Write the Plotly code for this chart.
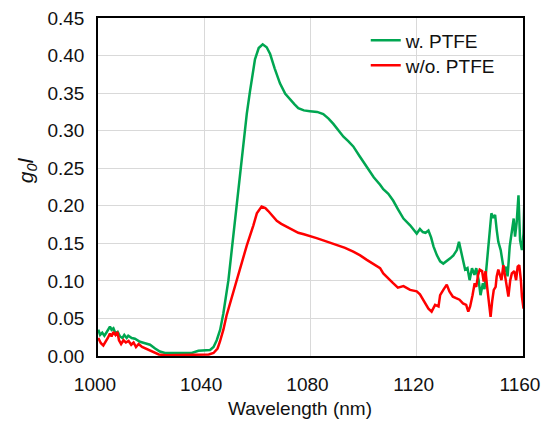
import plotly.graph_objects as go

# --- data ---
wl_green = [1000.1, 1000.8, 1001.6, 1002.4, 1003.3, 1003.9, 1004.5, 1005.1, 1005.8, 1006.6,
            1007.4, 1008.3, 1009.2, 1009.9, 1010.8, 1011.4, 1012.7, 1013.9, 1015.8, 1017.7,
            1019.6, 1021.5, 1023.3, 1025.2, 1030.2, 1035.3, 1037.8, 1040.3, 1042.2, 1043.5,
            1044.7, 1046.0, 1047.2, 1049.1, 1050.9, 1052.2, 1053.5, 1054.7, 1056.0, 1057.2,
            1058.3, 1059.1, 1060.5, 1062.0, 1063.5, 1064.8, 1066.5, 1068.5, 1070.5, 1072.3,
            1074.0, 1075.4, 1077.5, 1079.8, 1082.5, 1084.8, 1086.8, 1088.6, 1090.5, 1092.4,
            1094.2, 1096.1, 1098.5, 1101.2, 1103.8, 1106.2, 1107.4, 1109.3, 1111.1, 1113.0,
            1115.0, 1117.5, 1118.8, 1120.0, 1121.2, 1122.3, 1123.3, 1124.4, 1125.4, 1126.3,
            1127.6, 1128.8, 1130.0, 1131.3, 1132.6, 1133.8, 1135.1, 1135.9, 1136.7, 1137.6,
            1138.2, 1139.1, 1139.9, 1140.8, 1141.7, 1142.4, 1143.3, 1144.0, 1144.9, 1145.5,
            1146.5, 1147.4, 1148.1, 1148.8, 1149.5, 1150.1, 1150.7, 1151.6, 1152.3, 1152.9,
            1153.5, 1154.2, 1155.0, 1155.8, 1156.5, 1157.0, 1157.6, 1158.3, 1158.9, 1159.6,
            1160.2, 1160.6]
g_green = [0.035, 0.028, 0.031, 0.027, 0.032, 0.036, 0.039, 0.035, 0.037, 0.030,
           0.032, 0.026, 0.024, 0.028, 0.024, 0.027, 0.024, 0.023, 0.019, 0.017,
           0.015, 0.010, 0.006, 0.004, 0.004, 0.004, 0.007, 0.008, 0.008, 0.012,
           0.021, 0.035, 0.057, 0.101, 0.160, 0.204, 0.245, 0.285, 0.322, 0.352,
           0.375, 0.395, 0.410, 0.415, 0.411, 0.402, 0.383, 0.363, 0.349, 0.341,
           0.335, 0.330, 0.327, 0.326, 0.325, 0.322, 0.316, 0.309, 0.300, 0.292,
           0.286, 0.279, 0.266, 0.252, 0.238, 0.228, 0.222, 0.216, 0.207, 0.195,
           0.183, 0.174, 0.168, 0.163, 0.169, 0.165, 0.164, 0.167, 0.158, 0.146,
           0.134, 0.126, 0.123, 0.126, 0.130, 0.134, 0.141, 0.152, 0.139, 0.128,
           0.115, 0.117, 0.101, 0.117, 0.108, 0.117, 0.101, 0.081, 0.097, 0.089,
           0.132, 0.172, 0.190, 0.184, 0.188, 0.168, 0.152, 0.141, 0.123, 0.112,
           0.119, 0.106, 0.146, 0.168, 0.183, 0.159, 0.177, 0.214, 0.154, 0.141,
           0.163, 0.219]

wl_red = [1000.1, 1001.1, 1002.0, 1002.9, 1003.7, 1004.5, 1005.1, 1005.8, 1006.6, 1007.3,
          1007.9, 1008.7, 1009.6, 1010.5, 1011.5, 1012.5, 1013.4, 1014.3, 1015.3, 1016.6,
          1017.8, 1019.1, 1021.0, 1022.9, 1025.4, 1031.6, 1036.7, 1041.7, 1043.5, 1045.0,
          1045.9, 1047.2, 1048.4, 1050.9, 1053.5, 1056.0, 1058.5, 1059.8, 1061.6, 1063.0,
          1064.1, 1065.5, 1067.3, 1069.0, 1071.0, 1073.0, 1075.4, 1077.5, 1079.8, 1082.3,
          1084.8, 1087.3, 1089.8, 1093.0, 1096.1, 1098.7, 1101.2, 1103.8, 1106.2, 1107.4,
          1109.3, 1111.1, 1112.9, 1115.0, 1117.5, 1120.0, 1121.2, 1122.5, 1124.4, 1125.6,
          1126.9, 1128.2, 1128.8, 1130.0, 1131.3, 1132.3, 1133.6, 1134.8, 1136.1, 1137.4,
          1138.6, 1139.4, 1140.1, 1141.0, 1141.8, 1142.4, 1143.1, 1143.7, 1144.6, 1145.2,
          1145.9, 1146.5, 1147.1, 1147.8, 1148.4, 1149.0, 1149.7, 1150.1, 1150.7, 1151.4,
          1151.9, 1152.6, 1153.3, 1153.9, 1154.5, 1155.2, 1155.8, 1156.7, 1157.4, 1158.0,
          1158.6, 1159.2, 1159.6, 1160.2]
g_red = [0.024, 0.017, 0.014, 0.019, 0.024, 0.030, 0.026, 0.032, 0.028, 0.032,
         0.021, 0.016, 0.021, 0.018, 0.020, 0.015, 0.018, 0.012, 0.016, 0.012,
         0.010, 0.008, 0.005, 0.002, 0.001, 0.001, 0.001, 0.002, 0.004, 0.010,
         0.019, 0.035, 0.054, 0.085, 0.116, 0.147, 0.174, 0.190, 0.199, 0.197,
         0.193, 0.187, 0.180, 0.176, 0.172, 0.168, 0.164, 0.162, 0.160, 0.157,
         0.154, 0.151, 0.148, 0.144, 0.139, 0.134, 0.128, 0.122, 0.117, 0.110,
         0.104, 0.097, 0.091, 0.093, 0.088, 0.086, 0.082, 0.075, 0.063, 0.059,
         0.068, 0.066, 0.081, 0.088, 0.095, 0.086, 0.079, 0.077, 0.075, 0.070,
         0.068, 0.059, 0.066, 0.081, 0.097, 0.092, 0.108, 0.115, 0.113, 0.099,
         0.113, 0.092, 0.070, 0.052, 0.073, 0.088, 0.092, 0.106, 0.115, 0.106,
         0.101, 0.121, 0.106, 0.088, 0.079, 0.101, 0.110, 0.113, 0.101, 0.119,
         0.121, 0.101, 0.079, 0.063]

series_names = ["w. PTFE", "w/o. PTFE"]
x_ticks = [1000, 1040, 1080, 1120, 1160]
x_ticktext = ["1000", "1040", "1080", "1120", "1160"]
y_ticks = [0.00, 0.05, 0.10, 0.15, 0.20, 0.25, 0.30, 0.35, 0.40, 0.45]

FONT = "Liberation Sans, Arial, Helvetica, sans-serif"

fig = go.Figure()
fig.add_trace(go.Scatter(x=wl_green, y=g_green, mode="lines", name=series_names[0],
                         line=dict(color="#00A651", width=2.5), legend="legend"))
fig.add_trace(go.Scatter(x=wl_red, y=g_red, mode="lines", name=series_names[1],
                         line=dict(color="#FF0000", width=2.5), legend="legend2"))

axis_common = dict(showline=True, linecolor="black", linewidth=1.5, mirror=True,
                   showgrid=True, gridcolor="#D9D9D9", gridwidth=1.2, zeroline=False,
                   ticks="outside", tickcolor="rgba(0,0,0,0)", automargin=False,
                   ticklabeloverflow="allow",
                   tickfont=dict(family=FONT, size=19, color="#111"))

fig.update_xaxes(range=[1000, 1160], tickvals=x_ticks, ticktext=x_ticktext,
                 ticklen=10, ticklabelshift=-3, **axis_common)
fig.update_yaxes(range=[0, 0.45], tickvals=y_ticks, ticktext=[f"{v:.2f}" for v in y_ticks],
                 ticklen=8, **axis_common)

fig.add_annotation(text="Wavelength (nm)", xref="paper", yref="paper", x=0.475, y=-0.155,
                   xanchor="center", yanchor="middle", showarrow=False,
                   font=dict(family=FONT, size=19, color="#111"))
fig.add_annotation(text="<i>g</i><sub><i>0</i></sub><i>l</i>", xref="paper", yref="paper",
                   x=-0.167, y=0.55, xanchor="center", yanchor="middle", textangle=-90,
                   showarrow=False, font=dict(family=FONT, size=21, color="#111"))

leg_common = dict(x=0.63, xanchor="left", yanchor="top", bgcolor="rgba(0,0,0,0)",
                  borderwidth=0, font=dict(family=FONT, size=19, color="#111"), itemwidth=30)

fig.update_layout(
    width=542, height=424,
    margin=dict(l=98, r=19, t=18, b=68, autoexpand=False),
    paper_bgcolor="white", plot_bgcolor="white",
    showlegend=True,
    legend=dict(y=0.99, **leg_common),
    legend2=dict(y=0.916, **leg_common),
)

# remove the default page margin so the 542x424 figure fills the window exactly
fig.write_html("out.html",
               config={"displayModeBar": False},
               post_script="document.body.style.margin='0';"
                           "document.documentElement.style.overflow='hidden';"
                           "document.body.style.overflow='hidden';")
